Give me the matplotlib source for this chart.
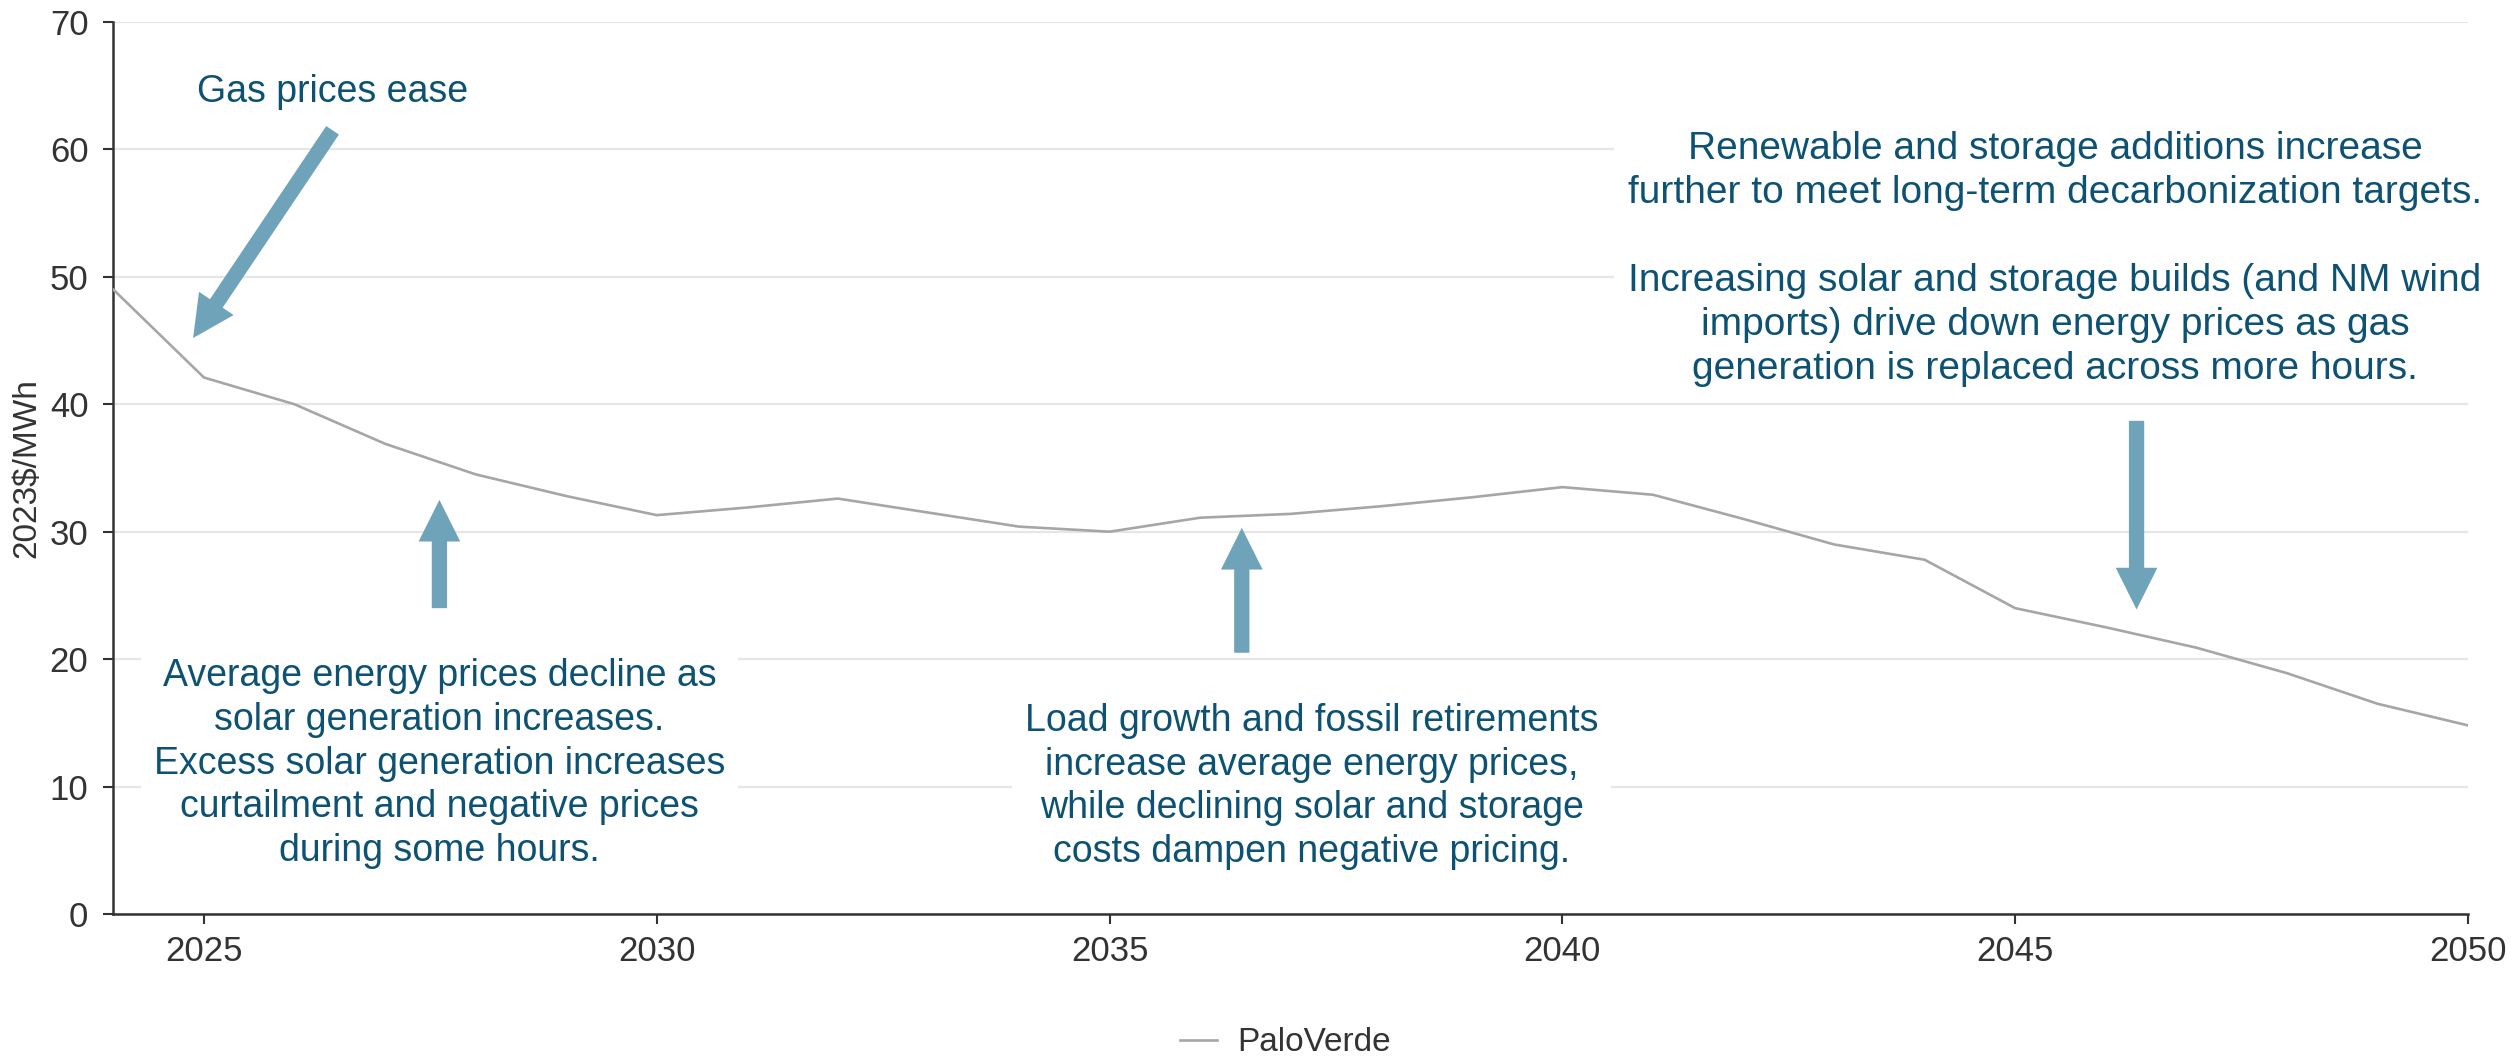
import matplotlib
matplotlib.use("Agg")
import matplotlib.pyplot as plt
import warnings
warnings.filterwarnings("ignore")

years = list(range(2024, 2051))
palo_verde = [49.0, 42.1, 40.0, 36.9, 34.5, 32.8, 31.3, 31.9, 32.6, 31.5, 30.4, 30.0,
              31.1, 31.4, 32.0, 32.7, 33.5, 32.9, 31.0, 29.0, 27.8, 24.0, 22.5, 20.9,
              18.9, 16.5, 14.8]
series_name = "PaloVerde"
y_ticks = [0, 10, 20, 30, 40, 50, 60, 70]
x_ticks = [2025, 2030, 2035, 2040, 2045, 2050]
y_label = "2023$/MWh"

notes = [
    ("Gas prices ease", 2026.42, 64.5, 27),
    ("Average energy prices decline as\nsolar generation increases.\nExcess solar generation increases\ncurtailment and negative prices\nduring some hours.", 2027.6, 11.8, 27),
    ("Load growth and fossil retirements\nincrease average energy prices,\nwhile declining solar and storage\ncosts dampen negative pricing.", 2037.23, 10.0, 27),
    ("Renewable and storage additions increase\nfurther to meet long-term decarbonization targets.\n\nIncreasing solar and storage builds (and NM wind\nimports) drive down energy prices as gas\ngeneration is replaced across more hours.", 2045.44, 51.4, 28),
]
# arrows: (tail_x, tail_y, tip_x, tip_y)
arrows = [
    (2026.42, 61.5, 2024.88, 45.2),
    (2027.6, 24.0, 2027.6, 32.5),
    (2036.46, 20.5, 2036.46, 30.3),
    (2046.34, 38.7, 2046.34, 23.9),
]

TEXT_C = "#0D5273"
ARROW_C = "#6FA3B9"
TICK_FONT = ["Liberation Sans", "DejaVu Sans"]

fig = plt.figure(figsize=(25.11, 10.58), dpi=100)
ax = fig.add_axes([0.04516, 0.13611, 0.93772, 0.8431])

ax.plot(years, palo_verde, color="#A6A6A6", lw=1.9, zorder=4, label=series_name)

ax.set_xlim(2024, 2050)
ax.set_ylim(0, 70)
ax.set_xticks(x_ticks)
ax.set_yticks(y_ticks)
ax.yaxis.grid(True, color="#E6E6E6", lw=1.6)
ax.set_axisbelow(True)

for s in ["top", "right"]:
    ax.spines[s].set_visible(False)
for s in ["left", "bottom"]:
    ax.spines[s].set_color("#333333")
    ax.spines[s].set_linewidth(1.8)

ax.tick_params(axis="both", colors="#333333", width=1.5, length=7)
ax.tick_params(axis="y", pad=11)
ax.tick_params(axis="x", pad=8)
for lab in ax.get_xticklabels() + ax.get_yticklabels():
    lab.set_fontfamily(TICK_FONT)
    lab.set_fontsize(25)
    lab.set_color("#333333")

ax.set_ylabel(y_label, family=TICK_FONT, fontsize=24, color="#333333")
ax.yaxis.set_label_coords(-0.030, 0.5)

for txt, x, y, fs in notes:
    ax.text(x, y, txt, ha="center", va="center", fontsize=fs, color=TEXT_C,
            family=["Liberation Sans", "DejaVu Sans"], linespacing=1.28, zorder=3,
            bbox=dict(boxstyle="square,pad=0.35", fc="white", ec="none"))

for tx, ty, hx, hy in arrows:
    ax.annotate("", xy=(hx, hy), xytext=(tx, ty),
                arrowprops=dict(arrowstyle="simple,head_length=3.0,head_width=3.0,tail_width=1.1",
                                mutation_scale=10, color=ARROW_C, shrinkA=0, shrinkB=0,
                                lw=0),
                zorder=5)

leg = fig.legend(loc="center", bbox_to_anchor=(0.512, 0.0142), frameon=False,
                 prop={"family": TICK_FONT, "size": 24}, handlelength=1.1, handletextpad=0.6)
for t in leg.get_texts():
    t.set_color("#333333")

fig.savefig("out.png", dpi=100)
